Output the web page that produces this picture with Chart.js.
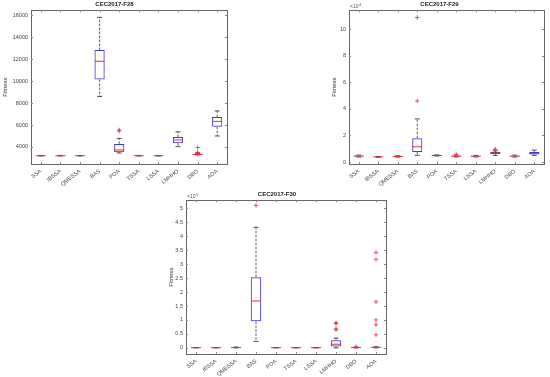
<!DOCTYPE html>
<html>
<head>
<meta charset="utf-8">
<script src="https://cdn.jsdelivr.net/npm/chart.js@4.4.0/dist/chart.umd.min.js"></script>
<style>
body { margin: 0; background: #fff; width: 550px; height: 377px; position: relative; overflow: hidden; }
canvas { position: absolute; }
</style>
</head>
<body>
<canvas id="c28" width="275" height="190" style="left:0;top:0"></canvas>
<canvas id="c29" width="275" height="190" style="left:275px;top:0"></canvas>
<canvas id="c30" width="280" height="192" style="left:140px;top:185px"></canvas>
<script>
const algorithms = ['SSA', 'IBSSA', 'QMESSA', 'BAS', 'POA', 'TSSA', 'LSSA', 'LMHHO', 'DBO', 'AOA'];

// CEC2017-F28
const f28Min = [3180, 3180, 3180, 8600, 3450, 3180, 3180, 4030, 3280, 5000];
const f28Q1  = [3195, 3195, 3195, 10150, 3520, 3195, 3195, 4330, 3300, 5850];
const f28Med = [3205, 3205, 3205, 11800, 3730, 3205, 3205, 4640, 3320, 6330];
const f28Q3  = [3215, 3215, 3215, 12820, 4280, 3215, 3215, 4900, 3350, 6730];
const f28Max = [3230, 3230, 3230, 15800, 4780, 3230, 3230, 5380, 3380, 7280];
const f28Out = [[], [], [], [], [5450, 5550], [], [], [], [3420, 3440, 3460, 3480, 3950], []];
const f28Ticks = [4000, 6000, 8000, 10000, 12000, 14000, 16000];

// CEC2017-F29 (x10^4)
const f29Min = [0.38, 0.36, 0.37, 0.50, 0.45, 0.38, 0.38, 0.50, 0.38, 0.50];
const f29Q1  = [0.42, 0.38, 0.40, 0.75, 0.47, 0.41, 0.42, 0.60, 0.41, 0.56];
const f29Med = [0.45, 0.39, 0.42, 1.15, 0.49, 0.44, 0.44, 0.68, 0.44, 0.65];
const f29Q3  = [0.48, 0.40, 0.44, 1.80, 0.51, 0.47, 0.46, 0.76, 0.47, 0.76];
const f29Max = [0.52, 0.42, 0.47, 3.25, 0.54, 0.52, 0.50, 0.84, 0.52, 0.90];
const f29Out = [[], [], [], [4.6, 10.9], [], [0.58], [], [0.92, 0.96], [], []];
const f29Ticks = [0, 2, 4, 6, 8, 10];

// CEC2017-F30 (x10^5)
const f30Min = [0.003, 0.003, 0.000, 0.23, 0.003, 0.003, 0.003, 0.00, 0.000, 0.000];
const f30Q1  = [0.004, 0.004, 0.005, 0.95, 0.004, 0.004, 0.004, 0.05, 0.005, 0.010];
const f30Med = [0.005, 0.005, 0.010, 1.68, 0.005, 0.005, 0.005, 0.13, 0.010, 0.020];
const f30Q3  = [0.006, 0.006, 0.015, 2.53, 0.006, 0.006, 0.006, 0.27, 0.015, 0.030];
const f30Max = [0.007, 0.007, 0.030, 4.32, 0.007, 0.007, 0.007, 0.35, 0.025, 0.040];
const f30Out = [[], [], [], [5.1], [], [], [], [0.65, 0.68, 0.87, 0.9], [0.045], [0.47, 0.83, 1.0, 1.65, 3.17, 3.42]];
const f30Ticks = [0, 0.5, 1, 1.5, 2, 2.5, 3, 3.5, 4, 4.5, 5];

const FONT = 'Liberation Sans, Arial, sans-serif';

const framePlugin = {
    id: 'frame',
    afterDraw(chart, args, opts) {
        const { ctx, chartArea: a, scales } = chart;
        ctx.save();
        ctx.strokeStyle = '#666';
        ctx.lineWidth = 1;
        ctx.strokeRect(Math.round(a.left) + 0.5, Math.round(a.top) + 0.5, Math.round(a.right - a.left), Math.round(a.bottom - a.top));
        ctx.strokeStyle = '#888';
        ctx.beginPath();
        scales.y.ticks.forEach((t, i) => {
            const y = Math.round(scales.y.getPixelForTick(i)) + 0.5;
            ctx.moveTo(a.left, y); ctx.lineTo(a.left + 2, y);
            ctx.moveTo(a.right, y); ctx.lineTo(a.right - 2, y);
        });
        scales.x.ticks.forEach((t, i) => {
            const x = Math.round(scales.x.getPixelForTick(i)) + 0.5;
            ctx.moveTo(x, a.bottom); ctx.lineTo(x, a.bottom - 2);
            ctx.moveTo(x, a.top); ctx.lineTo(x, a.top + 2);
        });
        ctx.stroke();
        if (opts.exp) {
            ctx.fillStyle = '#555';
            ctx.font = '5px ' + FONT;
            ctx.textBaseline = 'alphabetic';
            ctx.fillText('×10', a.left + 1, a.top - 2);
            ctx.font = '4px ' + FONT;
            ctx.fillText(opts.exp, a.left + 10, a.top - 4);
        }
        ctx.restore();
    }
};

function makeBoxChart(id, o) {
    const whiskers = [];
    const caps = [];
    const outliers = [];
    algorithms.forEach((c, i) => {
        whiskers.push({ x: c, y: o.q3[i] }, { x: c, y: o.max[i] }, { x: c, y: null });
        whiskers.push({ x: c, y: o.q1[i] }, { x: c, y: o.min[i] }, { x: c, y: null });
        caps.push({ x: c, y: o.max[i] }, { x: c, y: o.min[i] });
        o.out[i].forEach(v => outliers.push({ x: c, y: v }));
    });

    return new Chart(document.getElementById(id), {
        type: 'bar',
        data: {
            labels: algorithms,
            datasets: [
                {
                    type: 'line',
                    data: whiskers,
                    borderColor: '#333',
                    borderWidth: 0.8,
                    borderDash: [2.5, 1.5],
                    pointRadius: 0,
                    spanGaps: false,
                    order: 3
                },
                {
                    type: 'line',
                    data: caps,
                    showLine: false,
                    pointStyle: 'line',
                    pointRadius: 2.5,
                    pointBorderColor: '#222',
                    pointBorderWidth: 0.8,
                    order: 2
                },
                {
                    data: algorithms.map((c, i) => [o.q1[i], o.q3[i]]),
                    backgroundColor: 'rgba(255,255,255,0)',
                    borderColor: '#3a3ad8',
                    borderWidth: 1,
                    borderSkipped: false,
                    barPercentage: 0.52,
                    categoryPercentage: 1,
                    order: 1
                },
                {
                    type: 'line',
                    data: algorithms.map((c, i) => ({ x: c, y: o.med[i] })),
                    showLine: false,
                    pointStyle: 'line',
                    pointRadius: 5,
                    pointBorderColor: '#e8303a',
                    pointBorderWidth: 1,
                    order: 0
                },
                {
                    type: 'line',
                    data: outliers,
                    showLine: false,
                    pointStyle: 'cross',
                    pointRadius: 2.2,
                    pointBorderColor: '#e8303a',
                    pointBorderWidth: 0.8,
                    order: 0
                }
            ]
        },
        options: {
            responsive: false,
            animation: false,
            events: [],
            layout: { padding: o.pad },
            plugins: {
                legend: { display: false },
                tooltip: { enabled: false },
                title: {
                    display: true,
                    text: o.title,
                    color: '#222',
                    font: { family: FONT, size: 6, weight: 'bold' },
                    padding: { top: 1, bottom: 2 }
                },
                frame: { exp: o.exp }
            },
            scales: {
                x: {
                    grid: { display: false, drawTicks: false },
                    border: { display: false },
                    ticks: {
                        color: '#444',
                        font: { family: FONT, size: 5.5 },
                        autoSkip: false,
                        maxRotation: 38,
                        minRotation: 38,
                        padding: 4
                    },
                    afterFit: s => { s.height = o.xh; }
                },
                y: {
                    min: o.ymin,
                    max: o.ymax,
                    grid: { display: false, drawTicks: false },
                    border: { display: false },
                    ticks: {
                        color: '#444',
                        font: { family: FONT, size: 5.5 },
                        padding: 3,
                        callback: v => String(v)
                    },
                    afterBuildTicks: s => { s.ticks = o.ticks.map(v => ({ value: v })); },
                    title: {
                        display: true,
                        text: 'Fitness',
                        color: '#333',
                        font: { family: FONT, size: 6 },
                        padding: 0
                    },
                    afterFit: s => { s.width = o.yw; }
                }
            }
        },
        plugins: [framePlugin]
    });
}

makeBoxChart('c28', {
    title: 'CEC2017-F28', min: f28Min, q1: f28Q1, med: f28Med, q3: f28Q3, max: f28Max, out: f28Out,
    ticks: f28Ticks, ymin: 2450, ymax: 16450, exp: null,
    pad: { left: 2, right: 48, top: 0, bottom: 0 }, yw: 29, xh: 26
});

makeBoxChart('c29', {
    title: 'CEC2017-F29', min: f29Min, q1: f29Q1, med: f29Med, q3: f29Q3, max: f29Max, out: f29Out,
    ticks: f29Ticks, ymin: -0.15, ymax: 11.45, exp: '4',
    pad: { left: 56, right: 2, top: 0, bottom: 0 }, yw: 18, xh: 26
});

makeBoxChart('c30', {
    title: 'CEC2017-F30', min: f30Min, q1: f30Q1, med: f30Med, q3: f30Q3, max: f30Max, out: f30Out,
    ticks: f30Ticks, ymin: -0.22, ymax: 5.29, exp: '5',
    pad: { left: 28, right: 34, top: 5, bottom: 0 }, yw: 18, xh: 23
});
</script>
</body>
</html>
